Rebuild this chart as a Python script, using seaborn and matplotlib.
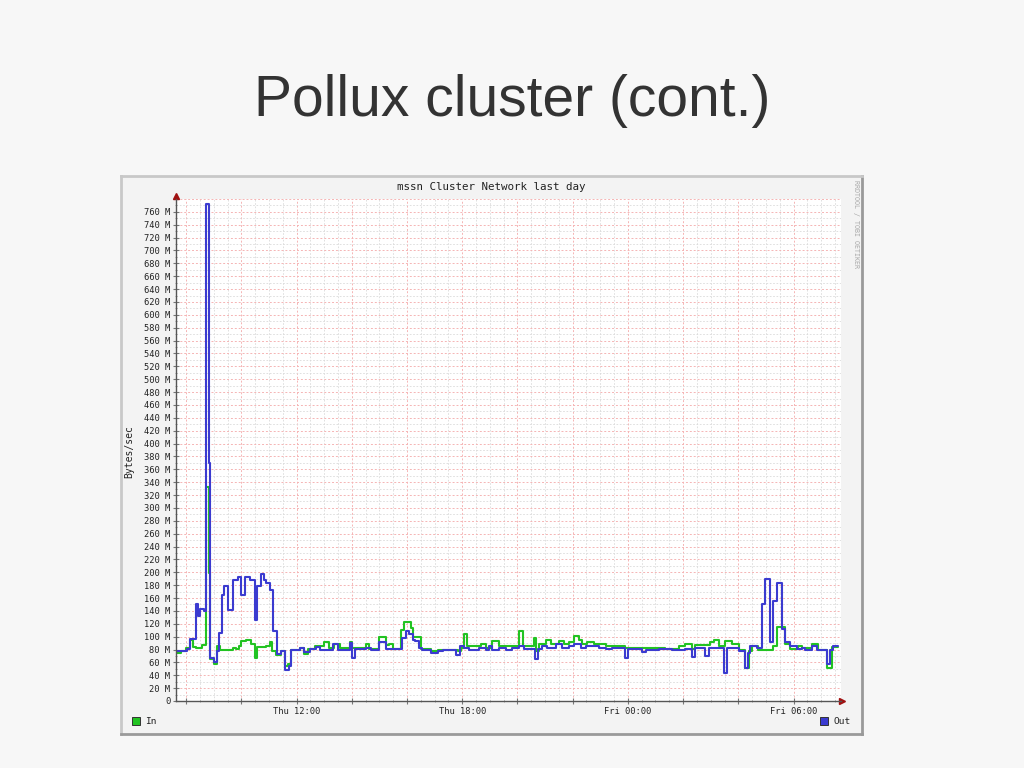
import matplotlib
matplotlib.use("Agg")
import matplotlib.pyplot as plt
import matplotlib.ticker as mticker
from matplotlib.patches import Rectangle
import pandas as pd
import seaborn as sns

# time axis: hours since Thu 00:00 (window runs ~Thu 07:37 -> Fri 07:40)
x_min, x_max = 7.62, 31.72
t_last = 31.60

# step start times / values (MBytes/sec)
out_times = [7.59, 7.84, 8.02, 8.14, 8.35, 8.42, 8.51, 8.63, 8.72, 8.81,
             8.88, 9.00, 9.10, 9.19, 9.28, 9.37, 9.52, 9.70, 9.88, 10.00,
             10.12, 10.30, 10.48, 10.58, 10.72, 10.82, 10.90, 11.03, 11.15, 11.30,
             11.45, 11.59, 11.72, 11.81, 12.11, 12.27, 12.47, 12.71, 12.83, 13.31,
             13.50, 13.92, 14.00, 14.13, 14.52, 14.70, 15.00, 15.22, 15.82, 15.96,
             16.08, 16.20, 16.30, 16.44, 16.56, 16.86, 17.11, 17.29, 17.79, 17.91,
             18.07, 18.25, 18.61, 18.85, 18.97, 19.09, 19.33, 19.58, 19.82, 20.06,
             20.24, 20.64, 20.76, 20.90, 21.08, 21.38, 21.62, 21.86, 22.05, 22.29,
             22.47, 22.95, 23.19, 23.43, 23.89, 23.99, 24.52, 24.66, 25.12, 25.60,
             26.08, 26.32, 26.42, 26.80, 26.95, 27.47, 27.59, 28.01, 28.25, 28.35,
             28.43, 28.67, 28.85, 28.97, 29.15, 29.27, 29.39, 29.58, 29.70, 29.88,
             30.12, 30.30, 30.42, 30.66, 30.84, 31.20, 31.32, 31.44]
out_values = [77, 78, 81, 96, 151, 132, 143, 140, 772, 370,
              67, 60, 78, 106, 165, 178, 141, 188, 193, 165,
              192, 188, 126, 179, 197, 188, 184, 172, 109, 73,
              78, 48, 54, 80, 82, 76, 81, 84, 80, 89,
              80, 90, 67, 81, 83, 79, 91, 81, 98, 109,
              104, 95, 93, 83, 79, 74, 77, 79, 71, 86,
              82, 79, 83, 79, 85, 79, 83, 79, 82, 86,
              81, 65, 81, 86, 83, 88, 83, 86, 89, 83,
              85, 83, 81, 83, 67, 81, 76, 79, 81, 79,
              81, 68, 83, 70, 83, 44, 83, 78, 52, 75,
              86, 83, 151, 189, 91, 155, 183, 112, 91, 86,
              81, 83, 80, 85, 79, 57, 79, 85]

in_times = [7.59, 7.83, 8.01, 8.13, 8.23, 8.37, 8.59, 8.72, 8.81, 8.88,
            9.00, 9.12, 9.22, 9.70, 9.82, 9.92, 10.00, 10.18, 10.36, 10.48,
            10.58, 10.90, 11.03, 11.12, 11.27, 11.45, 11.59, 11.69, 11.81, 12.11,
            12.27, 12.41, 12.65, 13.01, 13.17, 13.37, 13.56, 13.92, 14.01, 14.52,
            14.64, 14.98, 15.22, 15.36, 15.48, 15.78, 15.90, 16.14, 16.22, 16.50,
            16.86, 17.11, 17.83, 17.95, 18.07, 18.19, 18.67, 18.85, 19.09, 19.33,
            20.06, 20.20, 20.60, 20.68, 20.78, 21.02, 21.20, 21.50, 21.68, 21.86,
            22.05, 22.23, 22.35, 22.53, 22.77, 23.19, 23.91, 24.88, 25.36, 25.84,
            26.08, 26.32, 26.44, 26.99, 27.11, 27.29, 27.53, 27.77, 28.01, 28.25,
            28.37, 28.49, 28.73, 29.27, 29.39, 29.70, 29.88, 30.18, 30.30, 30.66,
            30.90, 31.20, 31.38]
in_values = [75, 78, 83, 95, 84, 83, 87, 332, 199, 65,
             57, 86, 79, 83, 81, 86, 93, 95, 89, 67,
             84, 86, 92, 78, 72, 77, 54, 57, 80, 83,
             73, 81, 86, 91, 83, 89, 83, 92, 83, 88,
             81, 100, 87, 88, 81, 110, 122, 113, 100, 81,
             78, 79, 77, 82, 104, 86, 88, 83, 93, 86,
             108, 86, 98, 78, 88, 95, 88, 93, 89, 91,
             101, 95, 88, 92, 88, 86, 83, 82, 81, 86,
             88, 81, 87, 91, 95, 86, 93, 88, 80, 52,
             78, 86, 80, 86, 115, 88, 81, 86, 82, 88,
             79, 51, 84]

x_tick_hours = [12, 18, 24, 30]
x_tick_labels = ["Thu 12:00", "Thu 18:00", "Fri 00:00", "Fri 06:00"]

series_colors = {"In": "#22c322", "Out": "#3b3bd0"}

frames = []
for name, times, vals in [("In", in_times, in_values), ("Out", out_times, out_values)]:
    frames.append(pd.DataFrame({"hour": times + [t_last], "mb": vals + [vals[-1]], "dir": name}))
df = pd.concat(frames, ignore_index=True)

sns.set_theme(style="white")
plt.rcParams["font.family"] = ["DejaVu Sans Mono"]

W, H = 1024, 768
fig = plt.figure(figsize=(W / 100, H / 100), dpi=100)
fig.patch.set_facecolor("#f7f7f7")


def box(x0, y0, x1, y1):
    # pixel box (top-left origin) -> figure fraction rect
    return [x0 / W, 1 - y1 / H, (x1 - x0) / W, (y1 - y0) / H]


# slide title
fig.text(512 / W, 1 - 101 / H, "Pollux cluster (cont.)", ha="center", va="center",
         fontsize=41, color="#333333", family="Liberation Sans")

# rrd image frame
frame = fig.add_axes(box(121, 176, 862, 734))
frame.set_facecolor("#f3f3f3")
frame.set_xticks([])
frame.set_yticks([])
for side, c in [("top", "#c8c8c8"), ("left", "#c8c8c8"), ("bottom", "#9a9a9a"), ("right", "#9a9a9a")]:
    frame.spines[side].set_color(c)
    frame.spines[side].set_linewidth(2)

ax = fig.add_axes(box(175.7, 199, 841, 701))
ax.set_facecolor("white")

sns.lineplot(data=df, x="hour", y="mb", hue="dir", hue_order=["In", "Out"],
             palette=series_colors, estimator=None, sort=False,
             drawstyle="steps-post", linewidth=1.5, legend=False, ax=ax)

ax.set_xlim(x_min, x_max)
ax.set_ylim(0, 780)

ax.xaxis.set_major_locator(mticker.MultipleLocator(2))
ax.xaxis.set_minor_locator(mticker.MultipleLocator(0.5))
ax.xaxis.set_major_formatter(mticker.FuncFormatter(
    lambda v, p: x_tick_labels[x_tick_hours.index(int(round(v)))] if int(round(v)) in x_tick_hours else ""))
ax.yaxis.set_major_locator(mticker.MultipleLocator(20))
ax.yaxis.set_minor_locator(mticker.MultipleLocator(10))
ax.yaxis.set_major_formatter(mticker.FuncFormatter(
    lambda v, p: "0" if v == 0 else ("%d M" % v if v <= 760 else "")))

ax.grid(which="major", color="#f5b4b4", linestyle=(0, (2, 2)), linewidth=0.7)
ax.grid(which="minor", color="#dadada", linestyle=(0, (2, 2)), linewidth=0.6)
ax.set_axisbelow(True)

ax.tick_params(which="major", direction="inout", length=4, width=0.8, color="#777777",
               labelsize=6.3, labelcolor="#222222", pad=2)
ax.tick_params(which="minor", direction="inout", length=2, width=0.6, color="#999999")
ax.tick_params(axis="x", which="both", bottom=True)
ax.tick_params(axis="y", which="both", left=True)

for side in ["top", "right"]:
    ax.spines[side].set_visible(False)
for side in ["left", "bottom"]:
    ax.spines[side].set_color("#555555")
    ax.spines[side].set_linewidth(1)

# axis arrow heads
ax.plot([0], [1.005], marker="^", color="#a01010", markersize=4, transform=ax.transAxes, clip_on=False)
ax.plot([1.002], [0], marker=">", color="#a01010", markersize=4, transform=ax.transAxes, clip_on=False)

ax.set_xlabel("")
ax.set_ylabel("Bytes/sec", fontsize=7, color="#222222")
ax.yaxis.set_label_coords((134.5 - 175.7) / (841 - 175.7), (701 - 452) / (701 - 199))

# chart title and watermark
fig.text(491 / W, 1 - 187 / H, "mssn Cluster Network last day", ha="center", va="center",
         fontsize=7.8, color="#222222")
fig.text(856 / W, 1 - 180 / H, "RRDTOOL / TOBI OETIKER", ha="center", va="top",
         rotation=270, fontsize=4.8, color="#a8a8a8")

# legend
for (px, label, name) in [(132, "In", "In"), (820, "Out", "Out")]:
    fig.patches.append(Rectangle((px / W, 1 - 725 / H), 8 / W, 8 / H, transform=fig.transFigure,
                                 facecolor=series_colors[name], edgecolor="#333333", linewidth=0.7))
    fig.text((px + 13) / W, 1 - 721 / H, label, ha="left", va="center", fontsize=6.8, color="#222222")

fig.savefig("out.png", dpi=100, facecolor=fig.get_facecolor())
